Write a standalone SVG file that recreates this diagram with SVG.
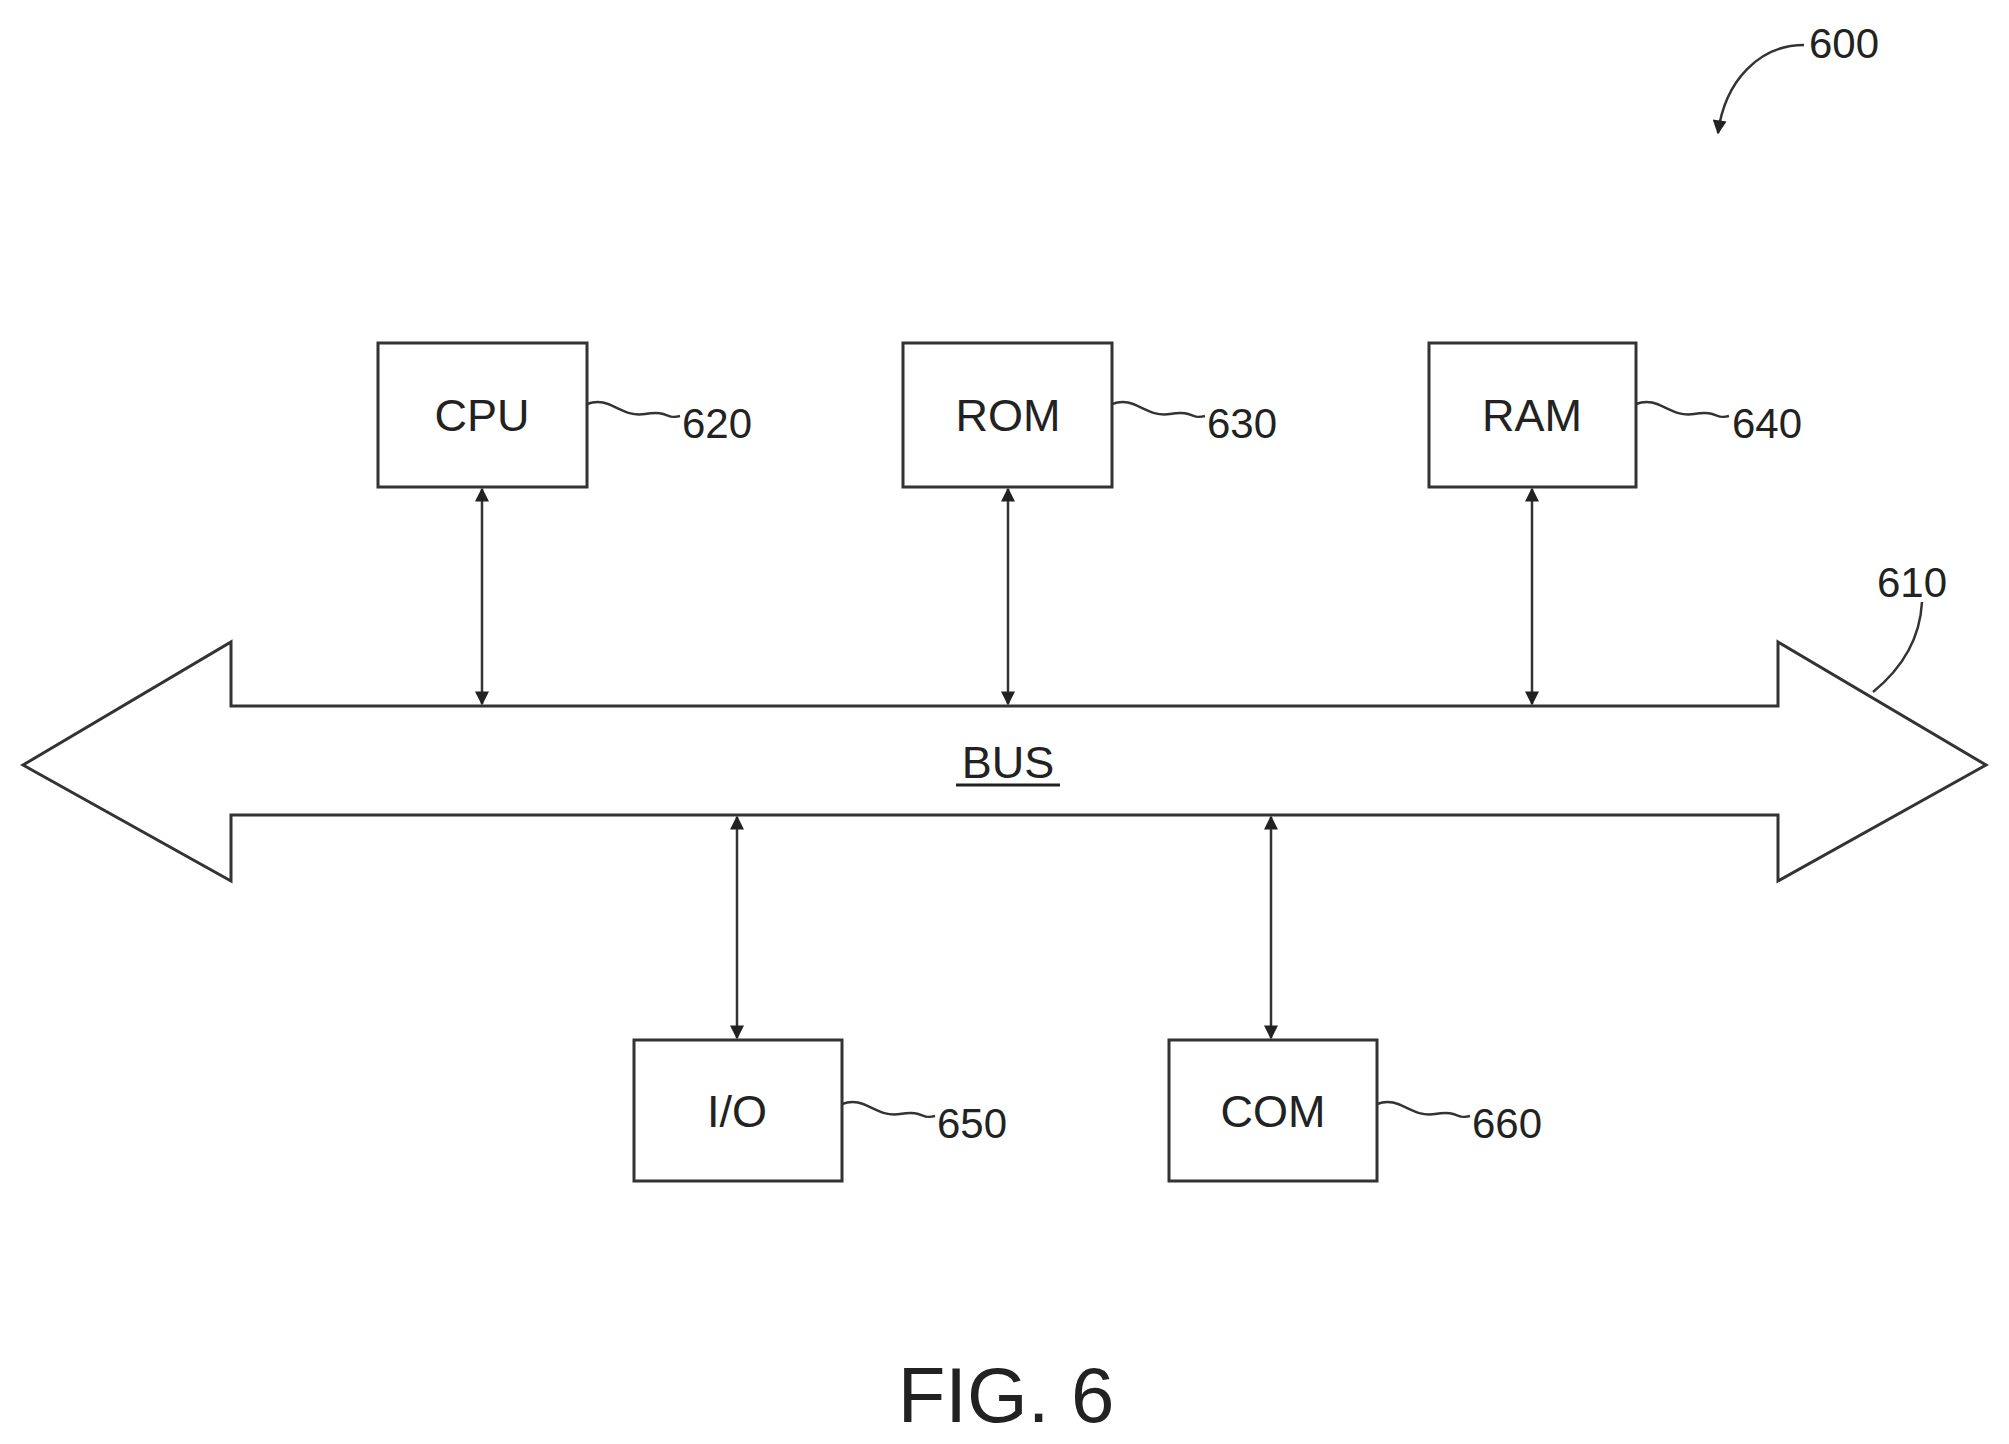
<svg xmlns="http://www.w3.org/2000/svg" width="2009" height="1444" viewBox="0 0 2009 1444">
<style>
.b{fill:#fff;stroke:#333;stroke-width:3}
.t{font-family:"Liberation Sans",Arial,sans-serif;font-size:45px;fill:#222;text-anchor:middle}
.n{font-family:"Liberation Sans",Arial,sans-serif;font-size:42px;fill:#222}
.l{fill:none;stroke:#333;stroke-width:2.5}
</style>
<defs>
<marker id="a" viewBox="0 0 10 10" refX="9" refY="5" markerWidth="18" markerHeight="14" orient="auto-start-reverse" markerUnits="userSpaceOnUse"><path d="M0,0 L10,5 L0,10 Z" fill="#222"/></marker>
</defs>
<rect width="2009" height="1444" fill="#fff"/>
<g id="bus">
<path class="b" d="M23,765 L231,642 L231,706 L1778,706 L1778,642 L1986,765 L1778,881 L1778,815 L231,815 L231,881 Z"/>
<text class="t" x="1008" y="778">BUS</text>
<line x1="956" y1="785" x2="1060" y2="785" stroke="#222" stroke-width="3"/>
<path class="l" d="M1922,602 C1920,640 1900,670 1873,692"/>
<text class="n" x="1877" y="597">610</text>
</g>
<g id="cpu"><rect class="b" x="378" y="343" width="209" height="144"/><text class="t" x="482" y="431">CPU</text>
<path class="l" d="M587,404 C610,395 620,418 645,414 S665,420 680,416"/><text class="n" x="682" y="438">620</text></g>
<g id="rom"><rect class="b" x="903" y="343" width="209" height="144"/><text class="t" x="1008" y="431">ROM</text>
<path class="l" d="M1112,404 C1135,395 1145,418 1170,414 S1190,420 1205,416"/><text class="n" x="1207" y="438">630</text></g>
<g id="ram"><rect class="b" x="1429" y="343" width="207" height="144"/><text class="t" x="1532" y="431">RAM</text>
<path class="l" d="M1636,404 C1659,395 1669,418 1694,414 S1714,420 1729,416"/><text class="n" x="1732" y="438">640</text></g>
<g id="io"><rect class="b" x="634" y="1040" width="208" height="141"/><text class="t" x="737" y="1127">I/O</text>
<path class="l" d="M842,1104 C865,1095 875,1118 900,1114 S920,1120 935,1116"/><text class="n" x="937" y="1138">650</text></g>
<g id="com"><rect class="b" x="1169" y="1040" width="208" height="141"/><text class="t" x="1273" y="1127">COM</text>
<path class="l" d="M1377,1104 C1400,1095 1410,1118 1435,1114 S1455,1120 1470,1116"/><text class="n" x="1472" y="1138">660</text></g>
<g id="connectors">
<line class="l" x1="482" y1="489" x2="482" y2="704" marker-start="url(#a)" marker-end="url(#a)"/>
<line class="l" x1="1008" y1="489" x2="1008" y2="704" marker-start="url(#a)" marker-end="url(#a)"/>
<line class="l" x1="1532" y1="489" x2="1532" y2="704" marker-start="url(#a)" marker-end="url(#a)"/>
<line class="l" x1="737" y1="817" x2="737" y2="1038" marker-start="url(#a)" marker-end="url(#a)"/>
<line class="l" x1="1271" y1="817" x2="1271" y2="1038" marker-start="url(#a)" marker-end="url(#a)"/>
<path class="l" d="M1804,45 C1760,45 1725,80 1718,133" marker-end="url(#a)"/>
</g>
<text class="n" x="1809" y="58">600</text>
<text x="1006" y="1422" font-family="Liberation Sans,Arial,sans-serif" font-size="78" fill="#222" text-anchor="middle">FIG. 6</text>
</svg>
